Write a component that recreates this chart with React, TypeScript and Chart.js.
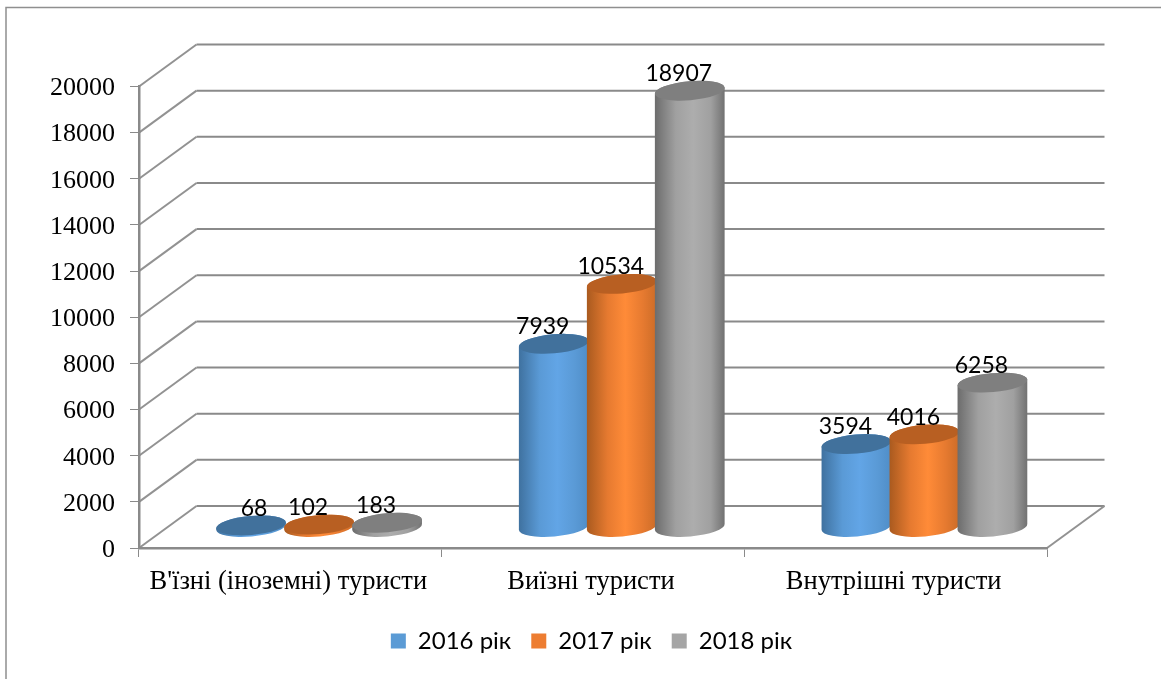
import React, { useEffect, useRef } from "react";
import { Chart, registerables } from "chart.js";

Chart.register(...registerables);

const categories = ["В'їзні (іноземні) туристи", "Виїзні туристи", "Внутрішні туристи"];
const series2016 = [68, 7939, 3594];
const series2017 = [102, 10534, 4016];
const series2018 = [183, 18907, 6258];
const seriesNames = ["2016 рік", "2017 рік", "2018 рік"];
const yMax = 20000;
const yStep = 2000;

const legendColors = ["#5b9bd5", "#ed7d31", "#a5a5a5"];
const topColors = ["#41719c", "#b85f22", "#7f7f7f"];
const bodyStops = [
  ["#3f719f", "#5a9ad6", "#62a5e6", "#4f8dc7"],
  ["#a95a1f", "#e67a30", "#ff8b38", "#cc6c28"],
  ["#6c6c6c", "#a0a0a0", "#adadad", "#717171"],
];

const DX = 57.5;
const DY = -42;
const LINE = "#8a8a8a";
const TILT = (-5 * Math.PI) / 180;
const RY = 9.5;

const scene3d = {
  id: "scene3d",
  afterLayout(chart: any) {
    const lg = chart.legend;
    if (lg) {
      lg.left -= 1.5;
      lg.right -= 1.5;
    }
  },
  beforeDraw(chart: any) {
    const { ctx, chartArea: a, width, height } = chart;
    const y = chart.scales.y;
    ctx.save();
    ctx.strokeStyle = "#8f8f8f";
    ctx.lineWidth = 1.5;
    ctx.beginPath();
    ctx.moveTo(width, 7.5);
    ctx.lineTo(6, 7.5);
    ctx.lineTo(6, height);
    ctx.stroke();
    for (const t of y.ticks) {
      const py = y.getPixelForValue(t.value);
      ctx.strokeStyle = "#929292";
      ctx.lineWidth = 2;
      ctx.beginPath();
      ctx.moveTo(a.left, py);
      ctx.lineTo(a.left + DX, py + DY);
      ctx.stroke();
      ctx.strokeStyle = LINE;
      ctx.lineWidth = 2;
      ctx.beginPath();
      ctx.moveTo(a.left + DX, py + DY);
      ctx.lineTo(a.right + DX, py + DY);
      ctx.stroke();
    }
    const y0 = y.getPixelForValue(0);
    ctx.strokeStyle = "#929292";
    ctx.lineWidth = 2;
    ctx.beginPath();
    ctx.moveTo(a.right, y0);
    ctx.lineTo(a.right + DX, y0 + DY);
    ctx.stroke();
    ctx.restore();
  },
  beforeDatasetsDraw() {
    return false;
  },
  afterDraw(chart: any) {
    const { ctx } = chart;
    const y = chart.scales.y;
    const base = y.getPixelForValue(0) + DY / 2;
    chart.data.datasets.forEach((ds: any, di: number) => {
      const meta = chart.getDatasetMeta(di);
      meta.data.forEach((bar: any, i: number) => {
        const cx = bar.x + DX / 2;
        const rx = bar.width / 2 + 1;
        const top = bar.y + DY / 2;
        const g = ctx.createLinearGradient(cx - rx, 0, cx + rx, 0);
        const st = bodyStops[di];
        g.addColorStop(0, st[0]);
        g.addColorStop(0.3, st[1]);
        g.addColorStop(0.55, st[2]);
        g.addColorStop(0.8, st[1]);
        g.addColorStop(1, st[3]);
        ctx.save();
        ctx.fillStyle = g;
        ctx.beginPath();
        ctx.ellipse(cx, base, rx, RY, TILT, Math.PI, 0, true);
        ctx.lineTo(cx + rx * Math.cos(TILT), top + rx * Math.sin(TILT));
        ctx.ellipse(cx, top, rx, RY, TILT, 0, Math.PI, true);
        ctx.closePath();
        ctx.fill();
        ctx.fillStyle = topColors[di];
        ctx.beginPath();
        ctx.ellipse(cx, top, rx, RY, TILT, 0, Math.PI * 2);
        ctx.fill();
        ctx.restore();
      });
    });
    chart.data.datasets.forEach((ds: any, di: number) => {
      const meta = chart.getDatasetMeta(di);
      meta.data.forEach((bar: any, i: number) => {
        const v = ds.data[i];
        const lx = bar.x + DX / 2 + (v < 100 ? 3 : -11);
        const ly = bar.y + DY / 2 - 17;
        ctx.save();
        ctx.font = '23px Lato, "Open Sans", sans-serif';
        ctx.fillStyle = "#000";
        ctx.textAlign = "center";
        ctx.textBaseline = "middle";
        ctx.fillText(String(v), lx, ly);
        ctx.restore();
      });
    });
  },
};

export default function App() {
  const ref = useRef<HTMLCanvasElement>(null);
  useEffect(() => {
    const chart = new Chart(ref.current as HTMLCanvasElement, {
      type: "bar",
      data: {
        labels: categories,
        datasets: [series2016, series2017, series2018].map((data, i) => ({
          label: seriesNames[i],
          data,
          backgroundColor: legendColors[i],
          borderWidth: 0,
          categoryPercentage: 0.674,
          barPercentage: 1,
        })),
      },
      options: {
        animation: false,
        responsive: false,
        layout: { padding: { top: 86.5, right: 114, left: 0, bottom: 16 } },
        scales: {
          x: {
            grid: { drawOnChartArea: false, drawTicks: true, tickLength: 9, color: LINE },
            border: { display: true, color: LINE, width: 2.5 },
            ticks: {
              padding: 9,
              labelOffset: -2,
              maxRotation: 0,
              color: "#000",
              font: { family: '"Liberation Serif"', size: 26.5 },
            },
            afterFit(s: any) {
              s.height = 61;
            },
          },
          y: {
            min: 0,
            max: yMax,
            ticks: {
              stepSize: yStep,
              padding: 15,
              labelOffset: 2,
              color: "#000",
              font: { family: '"Liberation Serif"', size: 26 },
              callback: (v: any) => String(v),
            },
            grid: { drawOnChartArea: false, drawTicks: true, tickLength: 9, color: LINE },
            border: { display: true, color: LINE, width: 2.5 },
            afterFit(s: any) {
              s.width = 139;
            },
          },
        },
        plugins: {
          legend: {
            position: "bottom",
            fullSize: false,
            labels: {
              boxWidth: 15,
              boxHeight: 15,
              padding: 20,
              color: "#000",
              font: { family: 'Lato, "Open Sans", sans-serif', size: 24 },
            },
          },
          tooltip: { enabled: false },
        },
      } as any,
      plugins: [scene3d as any],
    });
    return () => chart.destroy();
  }, []);
  return (
    <div style={{ position: "absolute", left: 0, top: 0, width: 1161, height: 679, background: "#fff" }}>
      <canvas ref={ref} width={1161} height={679} style={{ display: "block" }} />
    </div>
  );
}
